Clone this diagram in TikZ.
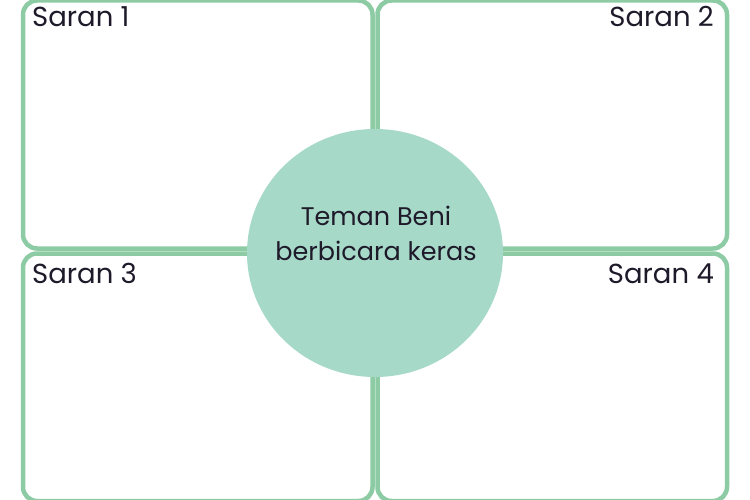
\documentclass[tikz,border=0pt]{standalone}
\usepackage{fontspec}
\usetikzlibrary{shapes.geometric}
\setmainfont{Poppins}
\definecolor{boxgreen}{HTML}{8DCBA5}
\definecolor{circfill}{HTML}{A6D9C7}
\definecolor{txt}{HTML}{1E1A2A}
\begin{document}
\begin{tikzpicture}[x=1pt,y=-1pt,
  panel/.style={draw=boxgreen,line width=4.5pt,rounded corners=14pt,fill=white},
  lbl/.style={text=txt,font=\fontsize{27.5}{30}\selectfont,inner sep=0pt},
  hub/.style={ellipse,fill=circfill,draw=none,minimum width=256pt,minimum height=248pt,inner sep=0pt},
  hubtext/.style={align=center,text=txt,inner sep=0pt,font=\fontsize{25.5}{35}\selectfont}]
\useasboundingbox (0,0) rectangle (750,500);
\fill[white] (0,0) rectangle (750,500);
\draw[panel] (23,0.5) rectangle (372.5,248.5);
\draw[panel] (377.5,0.5) rectangle (727,248.5);
\draw[panel] (23,253.5) rectangle (372.5,501);
\draw[panel] (377.5,253.5) rectangle (727,501);
\coordinate (p1) at (32,27);
\coordinate (p2) at (714,27);
\coordinate (p3) at (32,283);
\coordinate (p4) at (714,283);
\node[lbl,anchor=base west] (s1) at (p1) {Saran 1};
\node[lbl,anchor=base east] (s2) at (p2) {Saran 2};
\node[lbl,anchor=base west] (s3) at (p3) {Saran 3};
\node[lbl,anchor=base east] (s4) at (p4) {Saran 4};
\node[hub] (c) at (375,253) {};
\node[hubtext,anchor=base] (t) at (376,260) {Teman Beni\\berbicara keras};
\end{tikzpicture}
\end{document}
